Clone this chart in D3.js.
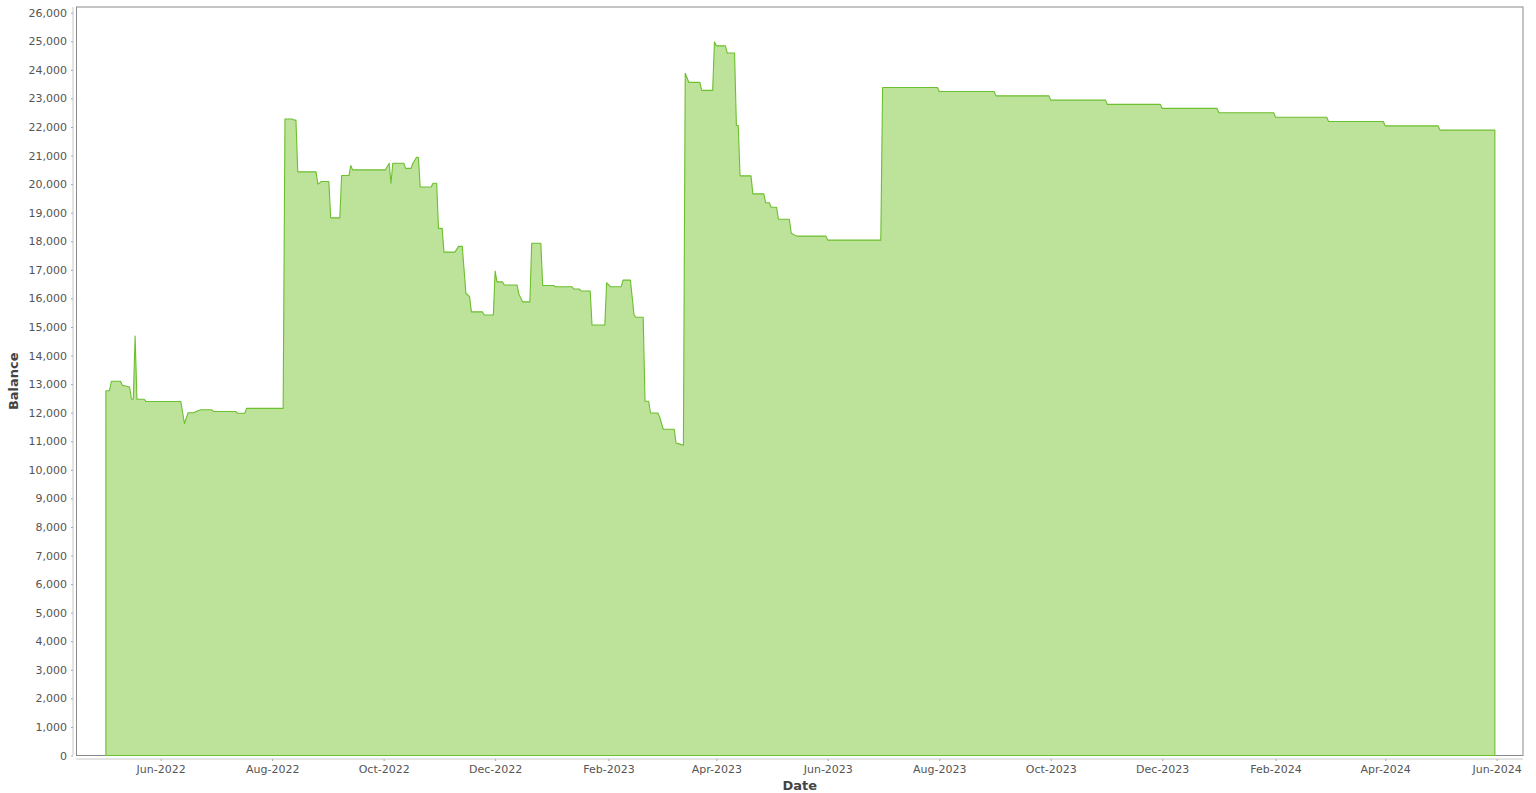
<!DOCTYPE html>
<html><head><meta charset="utf-8">
<script src="https://cdn.jsdelivr.net/npm/d3@7"></script>
<style>
body{margin:0;background:#fff;}
svg{display:block;font-family:"DejaVu Sans",sans-serif;}
</style></head><body>
<svg id="chart" width="1536" height="793"></svg>
<script>
const dates = [
"2022-05-02","2022-05-04","2022-05-05","2022-05-10","2022-05-11","2022-05-15","2022-05-16","2022-05-17","2022-05-18","2022-05-19",
"2022-05-23","2022-05-24","2022-06-12","2022-06-14","2022-06-16","2022-06-19","2022-06-21","2022-06-23","2022-06-29","2022-06-30",
"2022-07-12","2022-07-13","2022-07-17","2022-07-18","2022-08-07","2022-08-08","2022-08-12","2022-08-13","2022-08-14","2022-08-15",
"2022-08-25","2022-08-26","2022-08-28","2022-09-01","2022-09-02","2022-09-07","2022-09-08","2022-09-12","2022-09-13","2022-09-14",
"2022-10-02","2022-10-04","2022-10-05","2022-10-06","2022-10-12","2022-10-13","2022-10-16","2022-10-17","2022-10-19","2022-10-20",
"2022-10-21","2022-10-27","2022-10-28","2022-10-30","2022-10-31","2022-11-02","2022-11-03","2022-11-09","2022-11-11","2022-11-13",
"2022-11-15","2022-11-17","2022-11-18","2022-11-24","2022-11-25","2022-11-30","2022-12-01","2022-12-02","2022-12-05","2022-12-06",
"2022-12-13","2022-12-14","2022-12-16","2022-12-20","2022-12-21","2022-12-26","2022-12-27","2023-01-02","2023-01-03","2023-01-12",
"2023-01-13","2023-01-16","2023-01-17","2023-01-22","2023-01-23","2023-01-30","2023-01-31","2023-02-02","2023-02-08","2023-02-09",
"2023-02-13","2023-02-15","2023-02-16","2023-02-20","2023-02-21","2023-02-23","2023-02-24","2023-02-28","2023-03-01","2023-03-03",
"2023-03-09","2023-03-10","2023-03-12","2023-03-14","2023-03-15","2023-03-17","2023-03-23","2023-03-24","2023-03-30","2023-03-31",
"2023-04-01","2023-04-06","2023-04-07","2023-04-11","2023-04-12","2023-04-13","2023-04-14","2023-04-20","2023-04-21","2023-04-27",
"2023-04-28","2023-04-30","2023-05-01","2023-05-04","2023-05-05","2023-05-11","2023-05-12","2023-05-15","2023-05-31","2023-06-01",
"2023-06-30","2023-07-01","2023-07-31","2023-08-01","2023-08-31","2023-09-01","2023-09-30","2023-10-01","2023-10-31","2023-11-01",
"2023-11-30","2023-12-01","2023-12-31","2024-01-01","2024-01-31","2024-02-01","2024-02-29","2024-03-01","2024-03-31","2024-04-01",
"2024-04-30","2024-05-01","2024-05-31"
];
const balances = [
12770,12770,13100,13100,12960,12900,12470,12470,14680,12470,
12470,12390,12390,11620,12000,12000,12060,12100,12100,12040,
12040,11980,11980,12150,12150,22280,22280,22240,22240,20430,
20430,20000,20090,20090,18820,18820,20300,20300,20650,20500,
20500,20730,20030,20730,20730,20550,20550,20730,20940,20940,
19900,19900,20030,20030,18450,18450,17620,17620,17820,17820,
16180,16060,15530,15530,15420,15420,16960,16580,16580,16470,
16470,16150,15880,15880,17930,17930,16450,16450,16410,16410,
16330,16330,16260,16260,15070,15070,16550,16410,16410,16640,
16640,15420,15340,15340,12400,12400,11990,11990,11850,11420,
11420,10940,10900,10860,23880,23560,23560,23280,23280,24980,
24840,24840,24590,24590,22050,22050,20290,20290,19660,19660,
19350,19350,19190,19190,18770,18770,18280,18180,18180,18040,
18040,23380,23380,23240,23240,23090,23090,22940,22940,22790,
22790,22650,22650,22500,22500,22340,22340,22190,22190,22040,
22040,21890,21890
];
const yTicks = d3.range(0, 26001, 1000);
const xTickDates = ["2022-06-01","2022-08-01","2022-10-01","2022-12-01","2023-02-01","2023-04-01","2023-06-01","2023-08-01","2023-10-01","2023-12-01","2024-02-01","2024-04-01","2024-06-01"];
const xLabel = "Date", yLabel = "Balance";

const parse = d3.utcParse("%Y-%m-%d");
const data = dates.map((d,i)=>({date:parse(d), value:balances[i]}));

const svg = d3.select("#chart");
const L = 76.5, R = 1523, T = 7, B = 755.5;
const DAY = 864e5;
const base = Date.UTC(2022,5,1);
const x = d3.scaleUtc().domain([new Date(base - 46.07*DAY), new Date(base + 745.4*DAY)]).range([L, R]);
const y = d3.scaleLinear().domain([0, 26200]).range([B, T]);

// plot area
svg.append("rect").attr("x",L).attr("y",T).attr("width",R-L).attr("height",B-T)
  .attr("fill","#fff").attr("stroke","#8a8a8a").attr("stroke-width",1);

const area = d3.area().x(d=>x(d.date)).y0(y(0)).y1(d=>y(d.value));
svg.append("path").datum(data).attr("d",area)
  .attr("fill","#bde29a").attr("stroke","#6cbf2e").attr("stroke-width",1.1).attr("stroke-linejoin","round");

// y axis
const yAxis = d3.axisLeft(y).tickValues(yTicks).tickSize(2).tickPadding(4).tickFormat(d3.format(","));
const gy = svg.append("g").attr("transform","translate(73,0)").call(yAxis);
gy.select(".domain").attr("stroke","#c8c8c8").attr("d",`M0,${T}V${B}`);
gy.selectAll(".tick line").attr("stroke","#aaa");
gy.selectAll("text").attr("fill","#555").attr("font-size",11).attr("font-family","DejaVu Sans");

// x axis
const xAxis = d3.axisBottom(x).tickValues(xTickDates.map(parse)).tickSize(2).tickPadding(4).tickFormat(d3.utcFormat("%b-%Y"));
const gx = svg.append("g").attr("transform","translate(0,759)").call(xAxis);
gx.select(".domain").attr("stroke","#c8c8c8").attr("d",`M${L},0H${R}`);
gx.selectAll(".tick line").attr("stroke","#aaa");
gx.selectAll("text").attr("fill","#555").attr("font-size",11).attr("font-family","DejaVu Sans");

svg.append("text").attr("x",(L+R)/2).attr("y",790).attr("text-anchor","middle")
  .attr("font-size",13).attr("font-weight","bold").attr("fill","#444").text(xLabel);
svg.append("text").attr("transform",`translate(18,${(T+B)/2}) rotate(-90)`).attr("text-anchor","middle")
  .attr("font-size",13).attr("font-weight","bold").attr("fill","#444").text(yLabel);
</script>
</body></html>
